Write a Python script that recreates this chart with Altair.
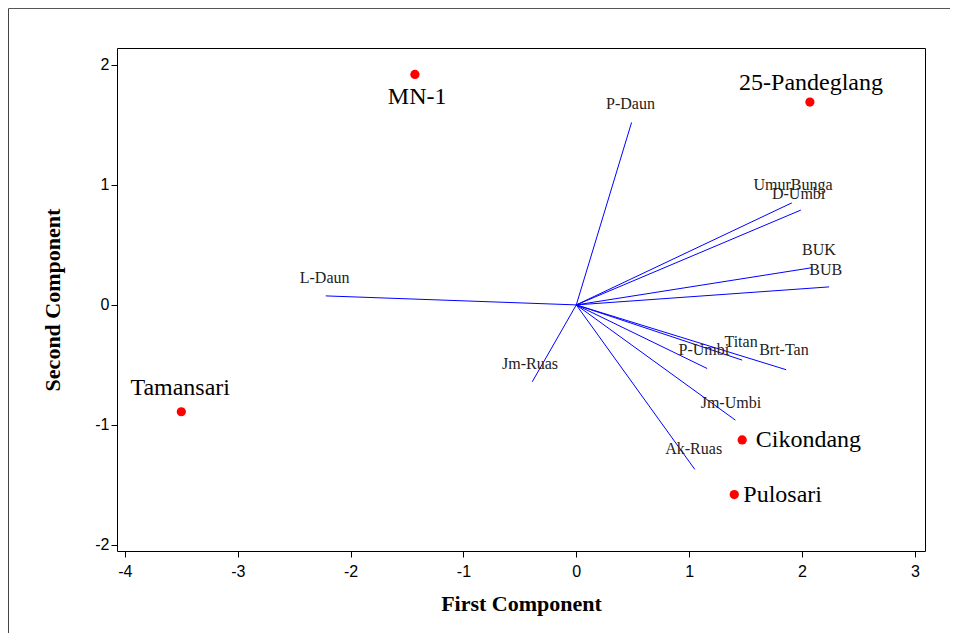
import altair as alt
import pandas as pd

# Variable loadings (vector end points)
var_names = ["P-Daun", "UmurBunga", "D-Umbi", "BUK", "BUB", "L-Daun", "Jm-Ruas",
             "P-Umbi", "Titan", "Brt-Tan", "Jm-Umbi", "Ak-Ruas"]
var_x = [0.49, 1.91, 1.99, 2.09, 2.24, -2.22, -0.39, 1.16, 1.47, 1.86, 1.41, 1.05]
var_y = [1.52, 0.85, 0.79, 0.31, 0.15, 0.075, -0.64, -0.53, -0.46, -0.54, -0.96, -1.37]
var_lab_x = [0.48, 1.92, 1.97, 2.15, 2.21, -2.23, -0.41, 1.13, 1.46, 1.84, 1.37, 1.04]
var_lab_y = [1.67, 1.00, 0.925, 0.46, 0.29, 0.225, -0.49, -0.375, -0.31, -0.375, -0.82, -1.20]

# Observation scores
obs_names = ["MN-1", "25-Pandeglang", "Tamansari", "Cikondang", "Pulosari"]
obs_x = [-1.43, 2.07, -3.50, 1.47, 1.40]
obs_y = [1.92, 1.69, -0.89, -1.125, -1.58]
obs_lab_x = [-1.41, 2.08, -3.51, 1.59, 1.48]
obs_lab_y = [1.73, 1.85, -0.69, -1.125, -1.58]
obs_align = ["center", "center", "center", "left", "left"]

x_ticks = [-4, -3, -2, -1, 0, 1, 2, 3]
y_ticks = [-2, -1, 0, 1, 2]

vars_df = pd.DataFrame({"name": var_names, "x": var_x, "y": var_y,
                        "lx": var_lab_x, "ly": var_lab_y,
                        "x0": [0.0] * len(var_names), "y0": [0.0] * len(var_names)})
obs_df = pd.DataFrame({"name": obs_names, "x": obs_x, "y": obs_y,
                       "lx": obs_lab_x, "ly": obs_lab_y, "align": obs_align})

xs = alt.Scale(domain=[-4.07, 3.09], nice=False, zero=False)
ys = alt.Scale(domain=[-2.05, 2.14], nice=False, zero=False)

xaxis = alt.Axis(values=x_ticks, labelExpr="'' + datum.value", title="First Component", grid=False,
                 labelFont="Liberation Sans", labelFontSize=16, labelColor="#000",
                 titleFont="Liberation Serif", titleFontSize=22, titleFontWeight="bold",
                 titleColor="#000", titlePadding=14, tickColor="#000", tickSize=6,
                 domain=False, labelPadding=6)
yaxis = alt.Axis(values=y_ticks, labelExpr="'' + datum.value", title="Second Component", grid=False,
                 labelFont="Liberation Sans", labelFontSize=16, labelColor="#000",
                 titleFont="Liberation Serif", titleFontSize=22, titleFontWeight="bold",
                 titleColor="#000", titlePadding=30, tickColor="#000", tickSize=6,
                 domain=False, labelPadding=2)

vectors = alt.Chart(vars_df).mark_rule(color="#0000ff", strokeWidth=1).encode(
    x=alt.X("x0:Q", scale=xs, axis=xaxis),
    y=alt.Y("y0:Q", scale=ys, axis=yaxis),
    x2="x:Q",
    y2="y:Q",
)

var_text = alt.Chart(vars_df).mark_text(
    font="Liberation Serif", fontSize=16, color="#222", baseline="middle", align="center"
).encode(x=alt.X("lx:Q", scale=xs), y=alt.Y("ly:Q", scale=ys), text="name:N")

points = alt.Chart(obs_df).mark_circle(color="#ff0000", opacity=1, size=85).encode(
    x=alt.X("x:Q", scale=xs), y=alt.Y("y:Q", scale=ys))

obs_c = alt.Chart(obs_df).transform_filter(alt.datum.align == "center").mark_text(
    font="Liberation Serif", fontSize=24, color="#000", baseline="middle", align="center"
).encode(x=alt.X("lx:Q", scale=xs), y=alt.Y("ly:Q", scale=ys), text="name:N")

obs_l = alt.Chart(obs_df).transform_filter(alt.datum.align == "left").mark_text(
    font="Liberation Serif", fontSize=24, color="#000", baseline="middle", align="left"
).encode(x=alt.X("lx:Q", scale=xs), y=alt.Y("ly:Q", scale=ys), text="name:N")

frame_left = alt.Chart(obs_df.head(1)).mark_rule(color="#444", strokeWidth=1, clip=False).encode(
    x=alt.value(-108.5), y=alt.value(-39.5), y2=alt.value(585))
frame_top = alt.Chart(obs_df.head(1)).mark_rule(color="#555", strokeWidth=1, clip=False).encode(
    x=alt.value(-108.5), x2=alt.value(833), y=alt.value(-39.5))

chart = alt.layer(frame_left, frame_top, vectors, var_text, points, obs_c, obs_l).properties(
    width=808, height=503,
    autosize=alt.AutoSizeParams(type="none"),
    padding={"left": 109, "top": 40, "right": 25, "bottom": 82},
    background="white",
).configure_view(stroke="#000", strokeWidth=1)

chart.save("out.html", embed_options={"renderer": "svg", "actions": False})
